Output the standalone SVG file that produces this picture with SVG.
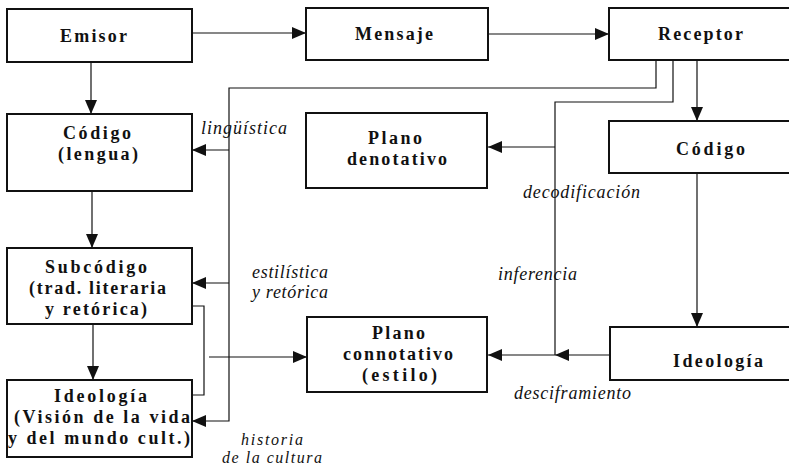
<svg xmlns="http://www.w3.org/2000/svg" width="789" height="466" viewBox="0 0 789 466">
<style>
.box{fill:#fff;stroke:#111;stroke-width:2}
.n{font-family:"Liberation Serif","Times New Roman",serif;font-weight:bold;font-size:18px;fill:#111}
.c{fill:none;stroke:#111;stroke-width:1.2}
.l{font-family:"Liberation Serif","Times New Roman",serif;font-style:italic;font-size:18px;fill:#111}
.s{font-size:16px}
</style>
<defs>
<marker id="ah" markerUnits="userSpaceOnUse" markerWidth="15" markerHeight="13" refX="14" refY="6" orient="auto">
<path d="M0,0 L14,6 L0,12 z" fill="#111"/>
</marker>
</defs>
<rect width="789" height="466" fill="#fff"/>
<g id="connectors">
<path class="c" d="M192,33 H306" marker-end="url(#ah)"/>
<path class="c" d="M488,34 H609" marker-end="url(#ah)"/>
<path class="c" d="M91,62 V114" marker-end="url(#ah)"/>
<path class="c" d="M92,191 V248" marker-end="url(#ah)"/>
<path class="c" d="M93,324 V380" marker-end="url(#ah)"/>
<path class="c" d="M697,60 V121" marker-end="url(#ah)"/>
<path class="c" d="M697,173 V327" marker-end="url(#ah)"/>
<path class="c" d="M656,60 V88 H229 V421 H192" marker-end="url(#ah)"/>
<path class="c" d="M229,150 H192" marker-end="url(#ah)"/>
<path class="c" d="M229,283 H192" marker-end="url(#ah)"/>
<path class="c" d="M673,60 V102 H555 V355"/>
<path class="c" d="M555,147 H488" marker-end="url(#ah)"/>
<path class="c" d="M610,355 H555" marker-end="url(#ah)"/>
<path class="c" d="M555,355 H488" marker-end="url(#ah)"/>
<path class="c" d="M192,306 H204 V395 H192"/>
<path class="c" d="M209,357 H307" marker-end="url(#ah)"/>
</g>
<g id="emisor">
<rect class="box" x="7" y="9" width="185" height="53"/>
<text class="n" x="60" y="42" textLength="67" lengthAdjust="spacing">Emisor</text>
</g>
<g id="mensaje">
<rect class="box" x="306" y="8" width="182" height="52"/>
<text class="n" x="355" y="40" textLength="78" lengthAdjust="spacing">Mensaje</text>
</g>
<g id="receptor">
<rect class="box" x="609" y="8" width="190" height="52"/>
<text class="n" x="658" y="40" textLength="85" lengthAdjust="spacing">Receptor</text>
</g>
<g id="codigo-lengua">
<rect class="box" x="7" y="114" width="185" height="77"/>
<text class="n" x="63" y="139" textLength="68" lengthAdjust="spacing">Código</text>
<text class="n" x="58" y="160" textLength="80" lengthAdjust="spacing">(lengua)</text>
</g>
<g id="plano-denotativo">
<rect class="box" x="306" y="113" width="181" height="75"/>
<text class="n" x="368" y="144" textLength="54" lengthAdjust="spacing">Plano</text>
<text class="n" x="347" y="165" textLength="100" lengthAdjust="spacing">denotativo</text>
</g>
<g id="codigo">
<rect class="box" x="609" y="121" width="190" height="52"/>
<text class="n" x="676" y="155" textLength="69" lengthAdjust="spacing">Código</text>
</g>
<g id="subcodigo">
<rect class="box" x="7" y="248" width="185" height="76"/>
<text class="n" x="45" y="273" textLength="102" lengthAdjust="spacing">Subcódigo</text>
<text class="n" x="29" y="294" textLength="137" lengthAdjust="spacing">(trad. literaria</text>
<text class="n" x="45" y="315" textLength="102" lengthAdjust="spacing">y retórica)</text>
</g>
<g id="ideologia-cultura">
<rect class="box" x="7" y="380" width="185" height="77"/>
<text class="n" x="54" y="402" textLength="93" lengthAdjust="spacing">Ideología</text>
<text class="n" x="14" y="423" textLength="176" lengthAdjust="spacing">(Visión de la vida</text>
<text class="n" x="8" y="444" textLength="182" lengthAdjust="spacing">y del mundo cult.)</text>
</g>
<g id="plano-connotativo">
<rect class="box" x="307" y="317" width="180" height="75"/>
<text class="n" x="372" y="339" textLength="53" lengthAdjust="spacing">Plano</text>
<text class="n" x="343" y="360" textLength="110" lengthAdjust="spacing">connotativo</text>
<text class="n" x="362" y="381" textLength="75" lengthAdjust="spacing">(estilo)</text>
</g>
<g id="ideologia">
<rect class="box" x="610" y="327" width="190" height="53"/>
<text class="n" x="673" y="367" textLength="90" lengthAdjust="spacing">Ideología</text>
</g>
<g id="labels">
<text class="l" x="201" y="134" textLength="86" lengthAdjust="spacing">lingüística</text>
<text class="l" x="523" y="198" textLength="117" lengthAdjust="spacing">decodificación</text>
<text class="l" x="252" y="278" textLength="76" lengthAdjust="spacing">estilística</text>
<text class="l" x="252" y="298" textLength="76" lengthAdjust="spacing">y retórica</text>
<text class="l" x="498" y="280" textLength="79" lengthAdjust="spacing">inferencia</text>
<text class="l" x="514" y="399" textLength="117" lengthAdjust="spacing">desciframiento</text>
<text class="l s" x="241" y="445" textLength="62" lengthAdjust="spacing">historia</text>
<text class="l s" x="222" y="463" textLength="100" lengthAdjust="spacing">de la cultura</text>
</g>
</svg>
